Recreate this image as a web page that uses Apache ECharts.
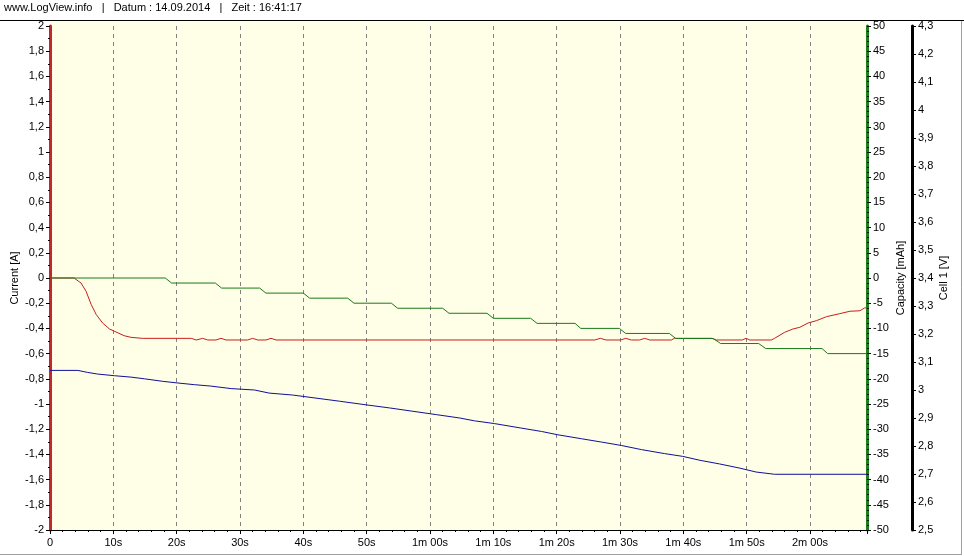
<!DOCTYPE html>
<html>
<head>
<meta charset="utf-8">
<script src="https://cdn.jsdelivr.net/npm/echarts@6/dist/echarts.min.js"></script>
<style>
html,body{margin:0;padding:0;background:#fff;}
#c{width:964px;height:556px;}
</style>
</head>
<body>
<div id="c"></div>
<script>
// ---- data ----
const xTickLabels = ['0','10s','20s','30s','40s','50s','1m 00s','1m 10s','1m 20s','1m 30s','1m 40s','1m 50s','2m 00s'];

const currentT = [0,3.8,4.9,5.7,6.5,7.3,8.3,9.4,10.2,11.7,12.8,14.6,22.3,23.1,24.1,24.9,26.2,27.0,27.8,31.2,32.0,32.3,32.8,34.1,34.9,35.7,86.0,86.9,87.8,90.1,90.9,91.8,93.1,93.9,94.7,98.1,98.6,104.5,105.2,109.3,109.9,110.5,113.9,114.4,116.0,117.3,118.4,119.7,121.0,122.6,124.7,126.3,127.9,128.6,129];
const currentV = [0,0,-0.04,-0.106,-0.21,-0.29,-0.357,-0.405,-0.423,-0.458,-0.471,-0.479,-0.479,-0.492,-0.479,-0.492,-0.492,-0.479,-0.492,-0.492,-0.479,-0.479,-0.492,-0.492,-0.479,-0.492,-0.492,-0.479,-0.492,-0.492,-0.479,-0.492,-0.492,-0.479,-0.492,-0.492,-0.479,-0.479,-0.492,-0.492,-0.479,-0.492,-0.492,-0.479,-0.431,-0.405,-0.391,-0.357,-0.339,-0.307,-0.283,-0.264,-0.260,-0.238,-0.235];

const capacityT = [0,18.2,19.2,26.1,27.1,33.1,34.1,40.0,41.0,47.0,48.0,53.9,54.9,62.0,63.0,69.0,70.0,75.9,76.9,82.9,83.8,89.9,90.9,97.8,98.8,104.7,105.9,111.9,113.0,121.9,122.8,129];
const capacityV = [0,0,-1,-1,-2,-2,-3,-3,-4,-4,-5,-5,-6,-6,-7,-7,-8,-8,-9,-9,-10,-10,-11,-11,-12,-12,-13,-13,-14,-14,-15,-15];

const cellT = [0,4.4,5.9,7.5,10.2,12.8,14.9,17.8,20.2,22.8,25.4,28.6,32.3,34.6,38.3,42.0,45.7,49.9,53.6,57.3,61.0,64.7,67.0,70.2,74.4,77.6,80.2,83.9,87.1,90.2,93.4,97.0,99.9,102.6,105.7,108.9,111.5,114.4,129];
const cellV = [3.070,3.070,3.063,3.057,3.051,3.046,3.040,3.031,3.025,3.019,3.014,3.005,3.000,2.989,2.982,2.971,2.960,2.947,2.936,2.924,2.912,2.900,2.890,2.880,2.864,2.852,2.840,2.826,2.814,2.802,2.787,2.773,2.763,2.749,2.736,2.721,2.707,2.699,2.699];

const zip = (a,b) => a.map((t,i) => [t, b[i]]);
const comma = v => String(+(+v).toFixed(2)).replace('.', ',');
const FONT = 'Liberation Sans';
const tickStyle = {color:'#000', width:1};

const chart = echarts.init(document.getElementById('c'), null, {renderer:'canvas'});
chart.setOption({
  animation:false,
  backgroundColor:'#fff',
  textStyle:{fontFamily:FONT},
  grid:{left:50, right:97, top:26, bottom:26, containLabel:false, outerBoundsMode:'none'},
  graphic:{elements:[
    {type:'rect', z:-100, shape:{x:50,y:21,width:817,height:510}, style:{fill:'#FFFEE6'}},
    {type:'text', left:4, top:2, style:{text:'www.LogView.info   |   Datum : 14.09.2014   |   Zeit : 16:41:17', fill:'#000', font:'11px "Liberation Sans"'}},
    {type:'line', shape:{x1:0,y1:20.5,x2:964,y2:20.5}, style:{stroke:'#000', lineWidth:1}},
    {type:'line', shape:{x1:961.5,y1:21,x2:961.5,y2:554.5}, style:{stroke:'#A0A0A0', lineWidth:1}},
    {type:'line', shape:{x1:0,y1:554.5,x2:962,y2:554.5}, style:{stroke:'#A0A0A0', lineWidth:1}}
  ]},
  xAxis:{
    type:'value', min:0, max:129, interval:10,
    axisLine:{show:true, onZero:false, lineStyle:{color:'#000', width:1}},
    axisTick:{show:true, length:4, lineStyle:tickStyle},
    minorTick:{show:true, splitNumber:5, length:2, lineStyle:tickStyle},
    axisLabel:{margin:7, color:'#000', fontSize:11, fontFamily:FONT,
      formatter:v => xTickLabels[Math.round(v/10)] || ''},
    splitLine:{show:true, lineStyle:{color:'#808080', type:[4,4], width:1}},
    minorSplitLine:{show:false}
  },
  yAxis:[
    {
      type:'value', min:-2, max:2, interval:0.2, position:'left',
      name:'Current [A]', nameLocation:'middle', nameRotate:90, nameGap:30, nameMoveOverlap:false,
      nameTextStyle:{color:'#000', fontSize:11, fontFamily:FONT},
      axisLine:{show:true, onZero:false, lineStyle:{color:'#C0282D', width:3}},
      axisTick:{show:true, length:4, lineStyle:tickStyle},
      minorTick:{show:true, splitNumber:2, length:2, lineStyle:tickStyle},
      axisLabel:{margin:6, color:'#000', fontSize:11, fontFamily:FONT, formatter:comma},
      splitLine:{show:false}
    },
    {
      type:'value', min:-50, max:50, interval:5, position:'right', offset:0,
      name:'Capacity [mAh]', nameLocation:'middle', nameRotate:90, nameGap:28, nameMoveOverlap:false,
      nameTextStyle:{color:'#000', fontSize:11, fontFamily:FONT},
      axisLine:{show:true, onZero:false, lineStyle:{color:'#1E7E1E', width:3}},
      axisTick:{show:true, length:4, lineStyle:tickStyle},
      minorTick:{show:true, splitNumber:5, length:2, lineStyle:tickStyle},
      axisLabel:{margin:6, color:'#000', fontSize:11, fontFamily:FONT, formatter:comma},
      splitLine:{show:false}
    },
    {
      type:'value', min:2.5, max:4.3, interval:0.1, position:'right', offset:45,
      name:'Cell 1 [V]', nameLocation:'middle', nameRotate:90, nameGap:26, nameMoveOverlap:false,
      nameTextStyle:{color:'#000', fontSize:11, fontFamily:FONT},
      axisLine:{show:true, onZero:false, lineStyle:{color:'#000', width:3}},
      axisTick:{show:true, length:4, lineStyle:tickStyle},
      minorTick:{show:true, splitNumber:2, length:2, lineStyle:tickStyle},
      axisLabel:{margin:6, color:'#000', fontSize:11, fontFamily:FONT, formatter:comma},
      splitLine:{show:false}
    }
  ],
  series:[
    {type:'line', name:'Current', yAxisIndex:0, data:zip(currentT,currentV), showSymbol:false, lineStyle:{color:'#C81E1E', width:1}, itemStyle:{color:'#C81E1E'}},
    {type:'line', name:'Capacity', yAxisIndex:1, data:zip(capacityT,capacityV), showSymbol:false, lineStyle:{color:'#1A7A1A', width:1}, itemStyle:{color:'#1A7A1A'}},
    {type:'line', name:'Cell 1', yAxisIndex:2, data:zip(cellT,cellV), showSymbol:false, lineStyle:{color:'#10109A', width:1}, itemStyle:{color:'#10109A'}}
  ]
});
</script>
</body>
</html>
